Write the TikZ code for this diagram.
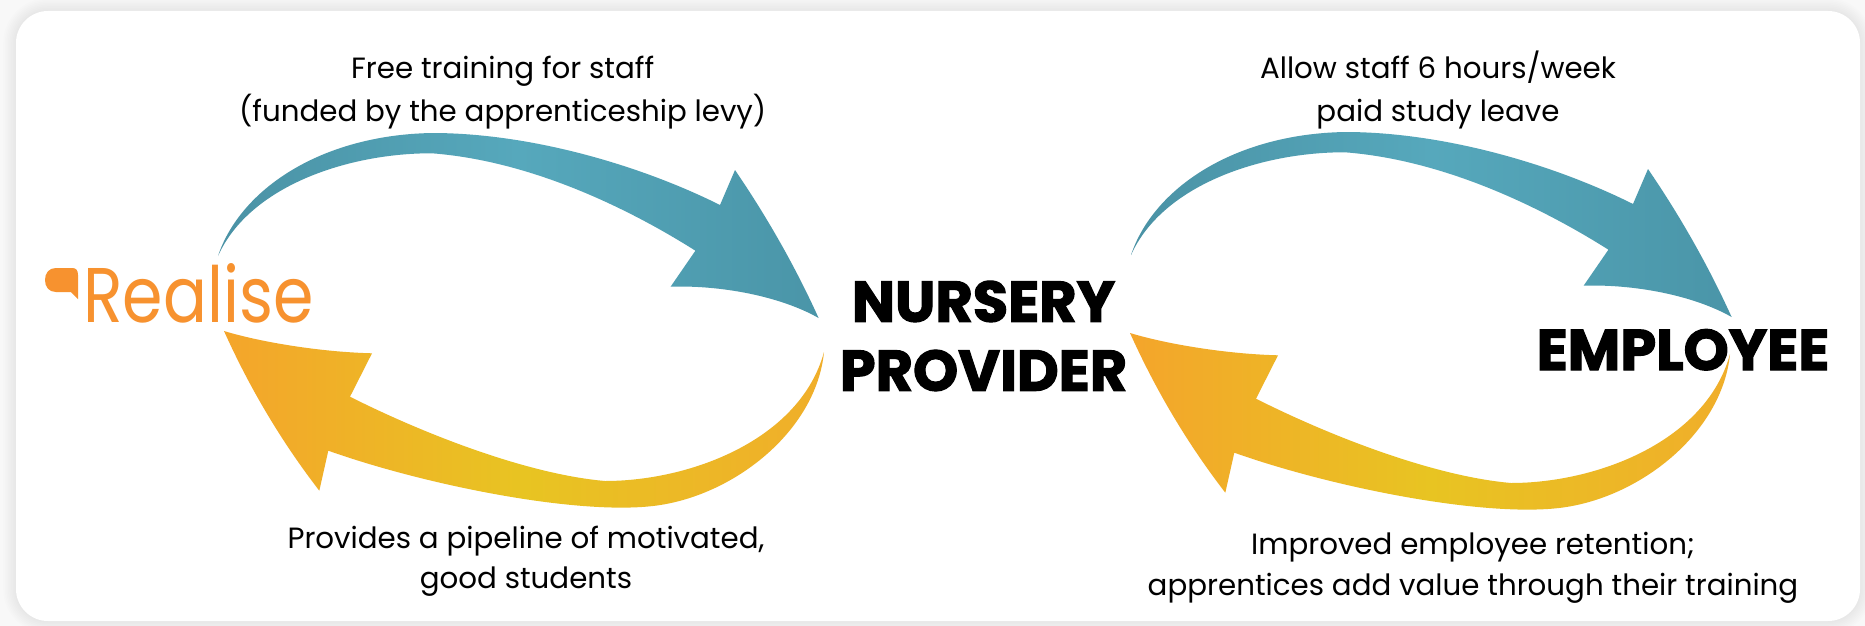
\documentclass[tikz,border=0pt]{standalone}
\usepackage{fontspec}
\setmainfont{Poppins}
\definecolor{bgc}{HTML}{F8F8F8}
\definecolor{realise}{HTML}{F7922F}
\definecolor{blueL}{HTML}{4A92A5}
\definecolor{blueM}{HTML}{56A8BC}
\definecolor{blueR}{HTML}{4A95A8}
\definecolor{yelL}{HTML}{F4A52B}
\definecolor{yelM}{HTML}{E8C422}
\definecolor{yelR}{HTML}{F0AE2A}
\tikzset{
  label/.style={anchor=base, inner sep=0pt, font=\fontsize{29.3}{32}\selectfont},
  heading/.style={anchor=base, inner sep=0pt, font=\fontsize{57.4}{60}\selectfont\bfseries\addfontfeatures{FakeBold=2}},
  bluefill/.style={left color=blueL, right color=blueR, middle color=blueM},
  yelfill/.style={left color=yelL, right color=yelR, middle color=yelM},
  bluearrow/.pic={
    \shade[bluefill] (218,256)
      .. controls (240,190) and (320,135) .. (432,133)
      .. controls (530,133) and (640,165) .. (720,205)
      -- (735,170)
      .. controls (767,217) and (795,266) .. (818.6,318)
      .. controls (780,296) and (720,285) .. (670.6,286.7)
      -- (695.4,250.7)
      .. controls (650,222) and (545,162) .. (432,153.3)
      .. controls (350,153) and (250,185) .. (218,256)
      -- cycle;
  },
  yelarrow/.pic={
    \shade[yelfill] (224,331)
      .. controls (260,342) and (320,352) .. (372,353.3)
      -- (350,396.7)
      .. controls (420,432) and (525,474) .. (605,481)
      .. controls (690,481) and (800,440) .. (824,352)
      .. controls (816,432) and (732,497) .. (653,506)
      .. controls (575,515) and (425,485) .. (328.3,450.7)
      -- (319.3,490.7)
      .. controls (281,441) and (249.5,387.7) .. (224,331)
      -- cycle;
  }
}
\begin{document}
\begin{tikzpicture}[x=1pt,y=-1pt]
\useasboundingbox (0,0) rectangle (1865,626);
\fill[bgc] (0,0) rectangle (1865,626);
% soft shadow of the card
\foreach \i in {1,...,8}{
  \pgfmathsetmacro{\d}{\i*1.6}
  \fill[black,opacity=0.009,rounded corners=32pt+\d pt] (16-\d,11-\d) rectangle (1860+\d,621+\d);
}
\fill[white,rounded corners=32pt] (16,11) rectangle (1860,621);

% arrows
\pic (arrBL) at (0,0) {bluearrow};
\pic (arrYL) at (0,0) {yelarrow};
\pic (arrBR) at (913,-1) {bluearrow};
\pic (arrYR) at (906,2) {yelarrow};

% Realise logo
\fill[realise] (78,299) -- (78,275) .. controls (78,270) and (76,268) .. (72,268)
  -- (56,268) .. controls (49,268) and (45,273) .. (45,280)
  .. controls (45,287) and (49,292) .. (56,292) -- (71,292) -- cycle;
\node[anchor=base west, inner sep=0pt, text=realise] (real) at (83,322)
  {\scalebox{0.84}[1]{\fontsize{77.5}{80}\selectfont Realise}};

% headings
\node[heading] (nurA) at (983.5,321.7) {NURSERY};
\node[heading] (nurB) at (983.5,390.7) {PROVIDER};
\node[heading] (emp) at (1683,370) {EMPLOYEE};

% labels
\node[label] (freeA) at (502.7,78) {Free training for staff};
\node[label] (freeB) at (502.7,121.5) {(funded by the apprenticeship levy)};
\node[label] (allowA) at (1438,78) {Allow staff 6 hours/week};
\node[label] (allowB) at (1438,121.5) {paid study leave};
\node[label] (provA) at (526,548.3) {Provides a pipeline of motivated,};
\node[label] (provB) at (526,588.3) {good students};
\node[label] (impA) at (1473,554) {Improved employee retention;};
\node[label] (impB) at (1473,595) {apprentices add value through their training};
\end{tikzpicture}
\end{document}
